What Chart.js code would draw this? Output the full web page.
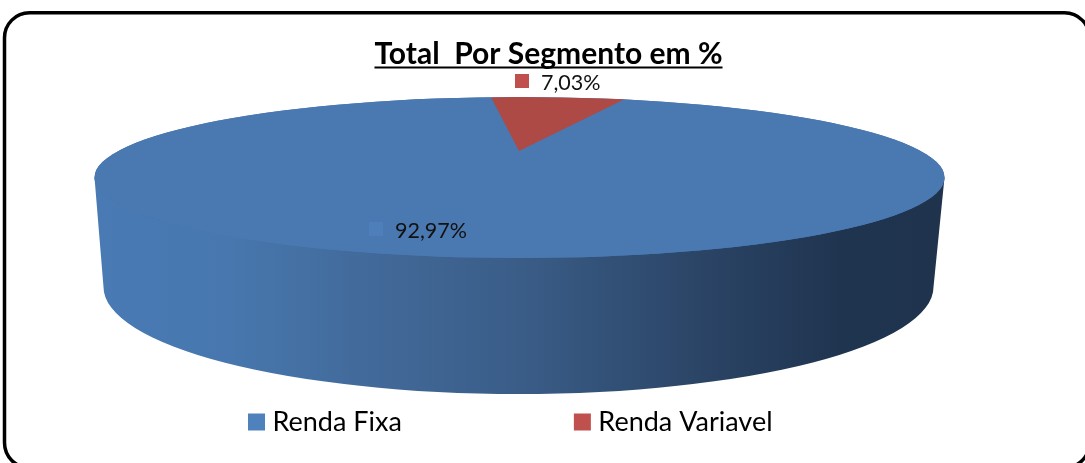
<!DOCTYPE html>
<html>
<head>
<meta charset="utf-8">
<title>Total Por Segmento em %</title>
<script src="https://cdn.jsdelivr.net/npm/chart.js@4"></script>
<style>
  html, body { margin: 0; padding: 0; background: #fff; overflow: hidden; }
  canvas { display: block; }
</style>
</head>
<body>
<canvas id="myChart" width="1085" height="463"></canvas>
<script>
const categories = ['Renda Fixa', 'Renda Variavel'];
const values = [92.97, 7.03];
const faceColors = ['#4a78b1', '#ad4a46'];
const legendColors = ['#4f81bd', '#c0504d'];
const markerColors = ['#4f7fbb', '#c0504d'];
const chartTitle = 'Total  Por Segmento em %';

// geometry of the tilted disc
const top3d = { x: 519.5, y: 177.5, rx: 425, ry: 80.5 };
const bottom3d = { x: 518.5, y: 287, rx: 415, ry: 107 };
const apex = { x: 519, y: 151 };
const tilt = 1 / 5.6;
const reach = 640;
const labelPos = [{ x: 369, y: 229 }, { x: 515, y: 81 }];

function label(v) {
  return v.toFixed(2).replace('.', ',') + '%';
}

const disc3d = {
  id: 'disc3d',
  beforeDraw(chart) {
    const ctx = chart.ctx;
    ctx.save();
    ctx.beginPath();
    ctx.roundRect(4.5, 12.8, 1085, 455, 25);
    ctx.lineWidth = 3.5;
    ctx.strokeStyle = '#000';
    ctx.stroke();
    ctx.restore();
  },
  beforeDatasetsDraw(chart) {
    const ctx = chart.ctx;
    const arc = chart.getDatasetMeta(0).data[0];

    // side wall, runs under the front half of the top face
    const grad = ctx.createLinearGradient(top3d.x - top3d.rx, 0, top3d.x + top3d.rx, 0);
    grad.addColorStop(0, '#4a7ab4');
    grad.addColorStop(0.16, '#4777ae');
    grad.addColorStop(0.32, '#426a9a');
    grad.addColorStop(0.5, '#3a5d88');
    grad.addColorStop(0.7, '#2c4668');
    grad.addColorStop(0.88, '#1f344f');
    grad.addColorStop(1, '#1f334d');
    ctx.save();
    ctx.beginPath();
    ctx.moveTo(top3d.x - top3d.rx, top3d.y);
    ctx.lineTo(top3d.x + top3d.rx, top3d.y);
    ctx.lineTo(bottom3d.x + bottom3d.rx, bottom3d.y);
    ctx.ellipse(bottom3d.x, bottom3d.y, bottom3d.rx, bottom3d.ry, 0, 0, Math.PI, false);
    ctx.closePath();
    ctx.fillStyle = grad;
    ctx.fill();
    ctx.restore();

    // top face: the library's arcs, squashed and clipped to the ellipse
    ctx.save();
    ctx.beginPath();
    ctx.ellipse(top3d.x, top3d.y, top3d.rx, top3d.ry, 0, 0, Math.PI * 2);
    ctx.fillStyle = faceColors[0];
    ctx.fill();
    ctx.clip();
    const k = reach / arc.outerRadius;
    ctx.translate(apex.x, apex.y);
    ctx.scale(k, k * tilt);
    ctx.translate(-arc.x, -arc.y);
  },
  afterDatasetsDraw(chart) {
    const ctx = chart.ctx;
    ctx.restore();

    // data labels with their little markers
    ctx.save();
    ctx.font = '21.5px Lato';
    ctx.textBaseline = 'middle';
    ctx.textAlign = 'left';
    values.forEach(function (v, i) {
      const p = labelPos[i];
      ctx.fillStyle = markerColors[i];
      ctx.fillRect(p.x, p.y - 7, 14, 14);
      ctx.fillStyle = '#111';
      ctx.fillText(label(v), p.x + 26, p.y + 2);
    });
    ctx.restore();

    // title underline
    const tb = chart.titleBlock;
    ctx.save();
    ctx.font = Chart.helpers.toFont(tb.options.font).string;
    const w = ctx.measureText(chartTitle).width;
    const cx = (tb.left + tb.right) / 2;
    ctx.fillStyle = '#000';
    ctx.fillRect(cx - w / 2, 66.5, w, 2);
    ctx.restore();
  }
};

const ctx = document.getElementById('myChart').getContext('2d');
const myChart = new Chart(ctx, {
  type: 'pie',
  data: {
    labels: categories,
    datasets: [{
      data: values,
      backgroundColor: faceColors,
      borderWidth: 0,
      clip: false
    }]
  },
  plugins: [disc3d],
  options: {
    responsive: false,
    animation: false,
    rotation: 20,
    layout: { padding: { left: 76, right: 64, top: 0, bottom: 17.5 } },
    events: [],
    plugins: {
      tooltip: { enabled: false },
      title: {
        display: true,
        text: chartTitle,
        color: '#000',
        font: { family: 'Lato', size: 30, weight: 'bold' },
        padding: { top: 36, bottom: 6 }
      },
      legend: {
        position: 'bottom',
        align: 'start',
        maxHeight: 230,
        labels: {
          color: '#111',
          font: { family: 'Lato', size: 27 },
          boxWidth: 5,
          boxHeight: 5,
          padding: 178,
          generateLabels() {
            return categories.map(function (c, i) {
              return { text: c, fillStyle: legendColors[i], strokeStyle: legendColors[i], lineWidth: 12, index: i };
            });
          }
        }
      }
    }
  }
});
</script>
</body>
</html>
